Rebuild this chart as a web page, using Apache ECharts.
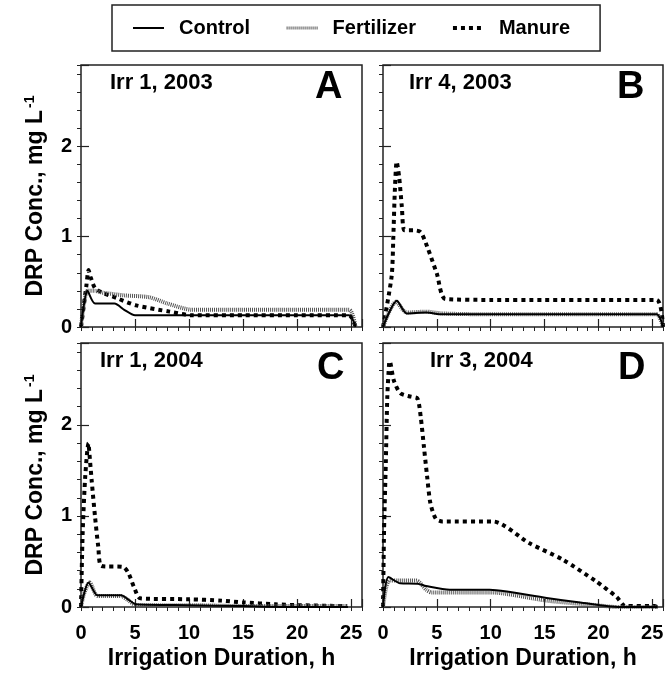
<!DOCTYPE html>
<html>
<head>
<meta charset="utf-8">
<script src="https://cdn.jsdelivr.net/npm/echarts@6/dist/echarts.min.js"></script>
<style>
html, body { margin: 0; padding: 0; background: #fff; }
#chart { width: 667px; height: 675px; }
</style>
</head>
<body>
<div id="chart"></div>
<script>
// values: hours and DRP conc. (mg/L)
var aControlX = [0, 0.6, 1.3, 3.1, 4.0, 5.0, 10, 15, 20, 24.8, 25.4];
var aControlY = [0, 0.40, 0.26, 0.26, 0.19, 0.13, 0.13, 0.13, 0.13, 0.13, 0];
var aFertX = [0, 0.6, 1.3, 2.0, 4.0, 6.3, 8.0, 10.3, 15, 20, 24.8, 25.4];
var aFertY = [0, 0.40, 0.40, 0.38, 0.35, 0.33, 0.26, 0.19, 0.19, 0.19, 0.19, 0];
var aManureX = [0, 0.5, 0.7, 0.9, 1.3, 2.0, 3.3, 5.1, 8.2, 10.3, 15, 20, 24.8, 25.4];
var aManureY = [0, 0.46, 0.63, 0.55, 0.43, 0.38, 0.32, 0.24, 0.17, 0.13, 0.13, 0.13, 0.13, 0];

var bControlX = [0, 1.3, 2.2, 4.0, 5.5, 10, 15, 20, 25.4, 26];
var bControlY = [0, 0.29, 0.15, 0.16, 0.14, 0.14, 0.14, 0.14, 0.14, 0];
var bFertX = [0, 1.2, 2.2, 4.0, 5.5, 10, 15, 20, 25.4, 26];
var bFertY = [0, 0.28, 0.16, 0.17, 0.15, 0.14, 0.14, 0.14, 0.14, 0];
var bManureX = [0, 0.8, 0.96, 1.1, 1.27, 1.5, 1.75, 2.0, 2.85, 3.5, 4.1, 5.0, 5.8, 10, 15, 20, 25.4, 26];
var bManureY = [0, 0.56, 1.0, 1.51, 1.83, 1.66, 1.33, 1.07, 1.07, 1.05, 0.89, 0.59, 0.31, 0.30, 0.30, 0.30, 0.30, 0];

var cControlX = [0, 0.7, 1.5, 2.0, 3.7, 4.3, 5.1, 10, 15, 20, 24.7];
var cControlY = [0, 0.27, 0.13, 0.13, 0.13, 0.09, 0.03, 0.02, 0.01, 0.0, 0];
var cFertX = [0, 0.3, 0.8, 1.5, 2.0, 3.7, 4.3, 5.1, 10, 15, 20, 24.7];
var cFertY = [0, 0.15, 0.27, 0.12, 0.12, 0.12, 0.08, 0.02, 0.02, 0.01, 0.01, 0.01];
var cManureX = [0, 0.15, 0.4, 0.7, 0.75, 0.98, 1.3, 1.6, 1.9, 3.9, 4.4, 4.9, 5.5, 10, 13, 15, 18, 20, 24.6];
var cManureY = [0, 0.8, 1.45, 1.8, 1.8, 1.4, 0.99, 0.66, 0.45, 0.44, 0.37, 0.22, 0.095, 0.085, 0.07, 0.05, 0.03, 0.02, 0.01];

var dControlX = [0, 0.5, 1.6, 3.2, 4.0, 6.2, 9.9, 11.5, 15.2, 18.3, 22.0, 25.5];
var dControlY = [0, 0.33, 0.26, 0.255, 0.23, 0.19, 0.19, 0.17, 0.10, 0.05, 0.0, 0];
var dFertX = [0, 0.3, 0.6, 1.2, 3.1, 4.0, 4.5, 10, 15.2, 19.8, 21.7, 25.5];
var dFertY = [0, 0.22, 0.29, 0.29, 0.29, 0.19, 0.16, 0.16, 0.07, 0.02, 0, 0];
var dManureX = [0, 0.1, 0.26, 0.4, 0.57, 0.62, 1.0, 1.6, 2.6, 3.2, 3.5, 3.8, 4.1, 4.4, 4.9, 5.5, 10.2, 13.6, 16.7, 19.8, 21.7, 22.5, 25.2, 25.5];
var dManureY = [0, 0.85, 1.58, 2.31, 2.68, 2.7, 2.49, 2.35, 2.31, 2.29, 2.09, 1.76, 1.43, 1.14, 0.97, 0.94, 0.94, 0.70, 0.52, 0.28, 0.11, 0.01, 0.01, 0];

var panelTitles = ['Irr 1, 2003', 'Irr 4, 2003', 'Irr 1, 2004', 'Irr 3, 2004'];
var panelLetters = ['A', 'B', 'C', 'D'];
var treatments = ['Control', 'Fertilizer', 'Manure'];

var FONT = 'Liberation Sans, Arial, sans-serif';

var panels = [
  [[aControlX, aControlY], [aFertX, aFertY], [aManureX, aManureY]],
  [[bControlX, bControlY], [bFertX, bFertY], [bManureX, bManureY]],
  [[cControlX, cControlY], [cFertX, cFertY], [cManureX, cManureY]],
  [[dControlX, dControlY], [dFertX, dFertY], [dManureX, dManureY]]
];

var grids = [
  { left: 81, top: 65, width: 281, height: 262 },
  { left: 383, top: 65, width: 280, height: 262 },
  { left: 81, top: 343, width: 281, height: 264 },
  { left: 383, top: 343, width: 280, height: 264 }
];

var lineStyles = [
  { color: '#000', width: 2, type: 'solid' },
  { color: '#555', width: 4, type: [1, 1] },
  { color: '#000', width: 4, type: [4, 4] }
];

function zip(xs, ys) {
  var out = [];
  for (var i = 0; i < xs.length; i++) out.push([xs[i], ys[i]]);
  return out;
}

var xAxes = [], yAxes = [], series = [], titles = [];

grids.forEach(function (g, i) {
  g.show = true;
  g.borderColor = '#222';
  g.borderWidth = 1.5;
  g.backgroundColor = '#fff';
  var bottomRow = i >= 2;
  var leftCol = i % 2 === 0;

  // main x axis
  xAxes.push({
    type: 'value', gridIndex: i, min: 0, max: 26, interval: 5,
    axisLine: { show: false },
    splitLine: { show: false },
    axisTick: { inside: true, length: 8, lineStyle: { color: '#222', width: 1.2 } },
    axisLabel: {
      show: bottomRow, margin: 16, fontSize: 20, fontWeight: 'bold', fontFamily: FONT, color: '#000',
      formatter: function (v) { return v % 5 === 0 ? v : ''; }
    },
    name: bottomRow ? 'Irrigation Duration, h' : '',
    nameLocation: 'middle', nameGap: 40,
    nameTextStyle: { fontSize: 23, fontWeight: 'bold', fontFamily: FONT, color: '#000' }
  });
  // minor x ticks
  xAxes.push({
    type: 'value', gridIndex: i, min: 0, max: 26, interval: 1,
    axisLine: { show: false }, splitLine: { show: false }, axisLabel: { show: false },
    axisTick: { inside: true, length: 4, lineStyle: { color: '#222', width: 1 } }
  });
  // main y axis
  yAxes.push({
    type: 'value', gridIndex: i, min: 0, max: 2.9, interval: 1,
    axisLine: { show: false },
    splitLine: { show: false },
    axisTick: { inside: true, length: 8, lineStyle: { color: '#222', width: 1.2 } },
    axisLabel: {
      show: leftCol, margin: 9, fontSize: 20, fontWeight: 'bold', fontFamily: FONT, color: '#000',
      formatter: function (v) { return Math.abs(v - Math.round(v)) < 1e-6 ? v : ''; }
    },
    name: leftCol ? '{a|DRP Conc., mg L}{b|-1}' : '',
    nameLocation: 'middle', nameGap: 32,
    nameTextStyle: {
      rich: {
        a: { fontSize: 23, fontWeight: 'bold', fontFamily: FONT, color: '#000' },
        b: { fontSize: 14, fontWeight: 'bold', fontFamily: FONT, color: '#000', verticalAlign: 'top', padding: [0, 0, 12, 2] }
      }
    }
  });
  // minor y ticks
  yAxes.push({
    type: 'value', gridIndex: i, min: 0, max: 2.9, interval: 0.2,
    axisLine: { show: false }, splitLine: { show: false }, axisLabel: { show: false },
    axisTick: { inside: true, length: 4, lineStyle: { color: '#222', width: 1 } }
  });

  panels[i].forEach(function (pair, k) {
    series.push({
      name: treatments[k],
      type: 'line',
      xAxisIndex: 2 * i,
      yAxisIndex: 2 * i,
      data: zip(pair[0], pair[1]),
      symbol: 'none',
      smooth: 0.25,
      lineStyle: lineStyles[k],
      itemStyle: { color: lineStyles[k].color },
      z: 3 - k
    });
  });
});

var titlePos = [
  [110, 72, 315, 69], [409, 72, 617, 69],
  [100, 350, 317, 350], [430, 350, 618, 350]
];
titlePos.forEach(function (p, i) {
  titles.push({
    text: panelTitles[i], left: p[0], top: p[1], padding: 0,
    textStyle: { fontSize: 22, fontWeight: 'bold', fontFamily: FONT, color: '#000' }
  });
  titles.push({
    text: panelLetters[i], left: p[2], top: p[3], padding: 0,
    textStyle: { fontSize: 38, fontWeight: 'bold', fontFamily: FONT, color: '#000' }
  });
});

var legendData = treatments.map(function (name, k) {
  return { name: name, lineStyle: { width: k === 0 ? 2 : (k === 1 ? 3 : 4), type: lineStyles[k].type, color: lineStyles[k].color } };
});

var chart = echarts.init(document.getElementById('chart'), null, { renderer: 'canvas' });
chart.setOption({
  animation: false,
  backgroundColor: '#fff',
  title: titles,
  legend: {
    data: legendData,
    left: 112, top: 5,
    padding: [13, 30, 13, 20],
    borderColor: '#222', borderWidth: 1.5,
    itemWidth: 31, itemHeight: 14, itemGap: 35,
    itemStyle: { opacity: 0, color: 'transparent', borderWidth: 0 },
    textStyle: { fontSize: 20, fontWeight: 'bold', fontFamily: FONT, color: '#000', padding: [0, 0, 0, 10] }
  },
  grid: grids,
  xAxis: xAxes,
  yAxis: yAxes,
  series: series
});
</script>
</body>
</html>
